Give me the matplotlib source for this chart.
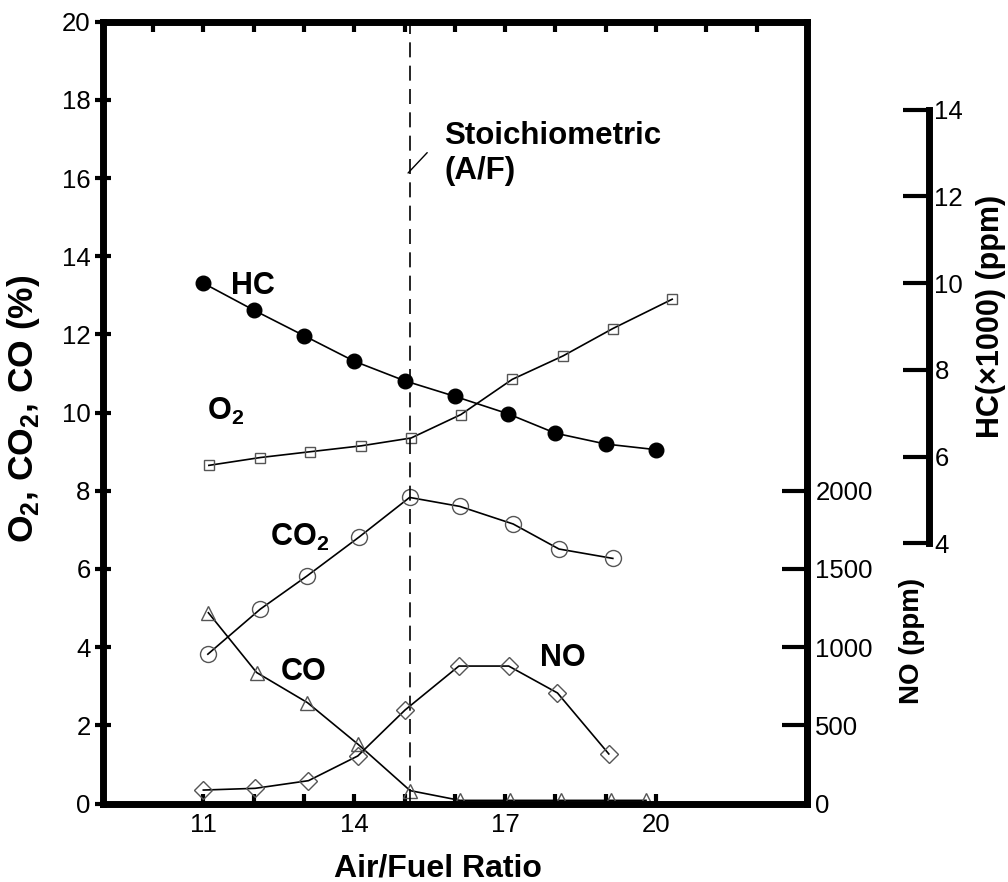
import matplotlib
matplotlib.use('Agg')
import matplotlib.pyplot as plt

plt.rcParams['font.family'] = ['Liberation Sans', 'DejaVu Sans']
plt.rcParams['mathtext.fontset'] = 'custom'
plt.rcParams['mathtext.rm'] = 'Liberation Sans'
plt.rcParams['mathtext.bf'] = 'Liberation Sans:bold'

# ---------------- data ----------------
hc_afr = [11.0, 12.0, 13.0, 14.0, 15.0, 16.0, 17.05, 18.0, 19.0, 20.0]
hc_k_ppm = [10.0, 9.38, 8.79, 8.20, 7.75, 7.39, 6.99, 6.54, 6.29, 6.16]

o2_afr = [11.11, 12.13, 13.13, 14.14, 15.13, 16.12, 17.14, 18.15, 19.14, 20.32]
o2_pct = [8.65, 8.85, 9.0, 9.15, 9.35, 9.95, 10.85, 11.45, 12.15, 12.9]

co2_afr = [11.09, 12.13, 13.06, 14.1, 15.1, 16.1, 17.16, 18.07, 19.14]
co2_pct = [3.82, 4.97, 5.82, 6.82, 7.83, 7.6, 7.15, 6.51, 6.27]

co_afr = [11.1, 12.06, 13.07, 14.08, 15.11, 16.1, 17.1, 18.1, 19.1, 19.8]
co_pct = [4.88, 3.35, 2.58, 1.51, 0.33, 0.08, 0.08, 0.08, 0.08, 0.08]

no_afr = [11.0, 12.03, 13.09, 14.07, 15.01, 16.08, 17.07, 18.04, 19.06]
no_ppm = [86, 97, 146, 304, 598, 879, 879, 707, 317]

stoich_afr = 15.1

x_major = [11, 14, 17, 20]
x_minor = [12, 13, 15, 16, 18, 19]
x_top = list(range(10, 23))
y_left_ticks = list(range(0, 21, 2))
no_ticks = [0, 500, 1000, 1500, 2000]
hc_ticks = [4, 6, 8, 10, 12, 14]

# ---------------- figure ----------------
fig = plt.figure(figsize=(10.08, 8.82), dpi=100)
ax = fig.add_axes([0.1019, 0.0890, 0.6987, 0.8864])

SPW = 5
TKW = 3
TICKFS = 18.5
LABFS = 22
edge = '#555555'

ax.set_xlim(9, 23)
ax.set_ylim(0, 20)
for s in ax.spines.values():
    s.set_linewidth(SPW)

ax.set_xticks(x_major)
ax.set_xticks(x_minor, minor=True)
ax.set_yticks(y_left_ticks)
ax.tick_params(axis='x', which='both', direction='in', length=7.5, width=TKW,
               labelsize=TICKFS, pad=7, top=False)
ax.tick_params(axis='y', which='both', direction='inout', length=11.5, width=TKW,
               labelsize=TICKFS, pad=3, right=False)

top = ax.secondary_xaxis('top')
top.set_xticks(x_top)
top.tick_params(direction='in', length=7.5, width=TKW, labeltop=False)
top.spines['top'].set_visible(False)

# NO axis (right spine of main frame)
ax_no = ax.twinx()
ax_no.set_ylim(0, 5000)
ax_no.set_yticks(no_ticks)
for k in ['left', 'top', 'bottom']:
    ax_no.spines[k].set_visible(False)
ax_no.spines['right'].set_linewidth(SPW)
ax_no.spines['right'].set_bounds(0, 2000)
ax_no.tick_params(axis='y', direction='in', length=18, width=TKW,
                  labelsize=TICKFS, pad=6)
ax_no.set_ylabel('NO (ppm)', fontsize=20, fontweight='bold', va='center')
ax_no.yaxis.set_label_coords(1.149, 0.208)

# HC axis (detached)
ax_hc = ax.twinx()
ax_hc.set_ylim(-2, 16.03)
ax_hc.set_yticks(hc_ticks)
for k in ['left', 'top', 'bottom']:
    ax_hc.spines[k].set_visible(False)
ax_hc.spines['right'].set_position(('axes', 1.173))
ax_hc.spines['right'].set_linewidth(SPW)
ax_hc.spines['right'].set_bounds(4, 14)
ax_hc.tick_params(axis='y', direction='in', length=18.5, width=TKW,
                  labelsize=TICKFS, pad=4)
ax_hc.set_ylabel('HC(×1000) (ppm)', fontsize=22, fontweight='bold', va='center')
ax_hc.yaxis.set_label_coords(1.261, 0.623)

# ---------------- series ----------------
lw = 1.2
ax.plot(o2_afr, o2_pct, '-s', color='black', lw=lw, ms=7.5, mfc='none', mec=edge, mew=1)
ax.plot(co2_afr, co2_pct, '-o', color='black', lw=lw, ms=11.5, mfc='none', mec=edge, mew=1)
ax.plot(co_afr, co_pct, '-^', color='black', lw=lw, ms=10, mfc='none', mec=edge, mew=1)
ax_no.plot(no_afr, no_ppm, '-D', color='black', lw=lw, ms=9.5, mfc='none', mec=edge, mew=1)
ax_hc.plot(hc_afr, hc_k_ppm, '-o', color='black', lw=lw, ms=10.5, mfc='black', mec='black')

ax.axvline(stoich_afr, color='black', lw=1.2, ls=(0, (9, 5)))

# ---------------- texts ----------------
ax.set_xlabel('Air/Fuel Ratio', fontsize=23, fontweight='bold', va='center')
ax.xaxis.set_label_coords(0.476, -0.0825)
ax.set_ylabel(r'O$_\mathbf{2}$, CO$_\mathbf{2}$, CO (%)', fontsize=25.5,
              fontweight='bold', va='center')
ax.yaxis.set_label_coords(-0.112, 0.505)

kw = dict(fontsize=LABFS, fontweight='bold', va='baseline', ha='left')
ax.text(11.55, 13.03, 'HC', **kw)
ax.text(11.08, 9.81, r'O$_\mathbf{2}$', **kw)
ax.text(12.33, 6.59, r'CO$_\mathbf{2}$', **kw)
ax.text(12.53, 3.16, 'CO', **kw)
ax.text(17.69, 3.52, 'NO', **kw)

ax.text(15.79, 17.46, 'Stoichiometric\n(A/F)', fontsize=22.5, fontweight='bold',
        va='top', ha='left')
ax.annotate('', xy=(15.07, 16.13), xytext=(15.45, 16.65),
            arrowprops=dict(arrowstyle='-', color='black', lw=1, shrinkA=0, shrinkB=0))

fig.savefig('out.png', dpi=100)
